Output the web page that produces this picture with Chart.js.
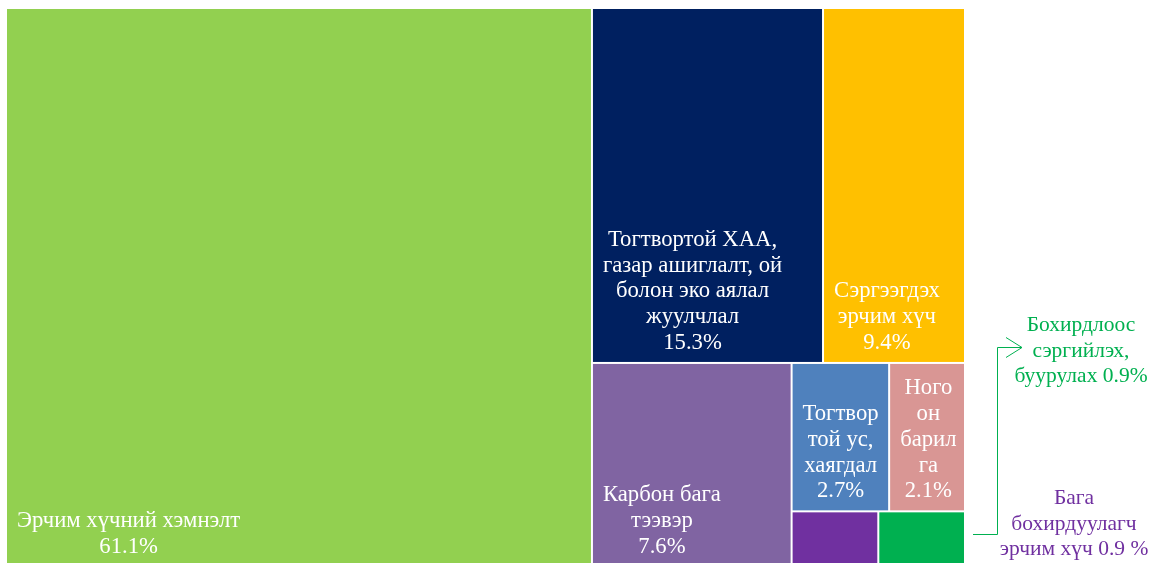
<!DOCTYPE html>
<html>
<head>
<meta charset="utf-8">
<script src="https://cdn.jsdelivr.net/npm/chart.js@4"></script>
<style>
  html, body { margin: 0; padding: 0; background: #fff; overflow: hidden; }
</style>
</head>
<body>
<canvas id="treeChart" width="1151" height="568"></canvas>
<script>
const categories = [
    'Эрчим хүчний хэмнэлт',
    'Тогтвортой ХАА, газар ашиглалт, ой болон эко аялал жуулчлал',
    'Сэргээгдэх эрчим хүч',
    'Карбон бага тээвэр',
    'Тогтвортой ус, хаягдал',
    'Ногоон барилга',
    'Бага бохирдуулагч эрчим хүч',
    'Бохирдлоос сэргийлэх, буурулах',
];
const values = [61.1, 15.3, 9.4, 7.6, 2.7, 2.1, 0.9, 0.9];
const colors = ['#92d050', '#002060', '#ffc000', '#8064a2', '#4f81bd', '#d99694', '#7030a0', '#00b050'];
const labelLines = [
    ['Эрчим хүчний хэмнэлт', '61.1%'],
    ['Тогтвортой ХАА,', 'газар ашиглалт, ой', 'болон эко аялал', 'жуулчлал', '15.3%'],
    ['Сэргээгдэх', 'эрчим хүч', '9.4%'],
    ['Карбон бага', 'тээвэр', '7.6%'],
    ['Тогтвор', 'той ус,', 'хаягдал', '2.7%'],
    ['Ного', 'он', 'барил', 'га', '2.1%'],
    [],
    [],
];
// outside callouts for the two smallest cells
const calloutGreen = ['Бохирдлоос', 'сэргийлэх,', 'буурулах 0.9%'];
const calloutPurple = ['Бага', 'бохирдуулагч', 'эрчим хүч 0.9 %'];

// nesting of the slices: alternating horizontal / vertical splits
const layoutTree = [0, [[1, 2], [3, [[4, 5], [6, 7]]]]];

function sumNode(n) {
    return typeof n === 'number' ? values[n] : n.reduce((a, c) => a + sumNode(c), 0);
}

function split(node, x0, y0, x1, y1, horiz, out) {
    if (typeof node === 'number') {
        out[node] = { x0, y0, x1, y1 };
        return;
    }
    const total = sumNode(node);
    let pos = horiz ? x0 : y0;
    node.forEach(child => {
        const size = sumNode(child) / total * (horiz ? x1 - x0 : y1 - y0);
        if (horiz) split(child, pos, y0, pos + size, y1, !horiz, out);
        else split(child, x0, pos, x1, pos + size, !horiz, out);
        pos += size;
    });
}

const cells = [];
split(layoutTree, 0, 0, 1, 1, true, cells);

const FONT = '"Liberation Serif", "Times New Roman", serif';

const treemapPlugin = {
    id: 'treemapCells',
    beforeDatasetsDraw(chart) {
        const { ctx, scales: { x, y } } = chart;
        ctx.save();
        cells.forEach((c, i) => {
            const left = x.getPixelForValue(c.x0) + 1;
            const right = x.getPixelForValue(c.x1) - 1;
            const top = y.getPixelForValue(c.y0) + 1;
            const bottom = y.getPixelForValue(c.y1) - 1;
            ctx.fillStyle = colors[i];
            ctx.fillRect(left, top, right - left, bottom - top);

            const lines = labelLines[i];
            if (!lines.length) return;
            ctx.font = '22.7px ' + FONT;
            ctx.fillStyle = '#ffffff';
            ctx.textAlign = 'center';
            ctx.textBaseline = 'alphabetic';
            const maxW = Math.max(...lines.map(l => ctx.measureText(l).width));
            const cx = left + 10 + maxW / 2;
            const lh = 25.8;
            lines.forEach((l, k) => {
                const by = bottom - 13 - (lines.length - 1 - k) * lh;
                ctx.fillText(l, cx, by);
            });
        });
        ctx.restore();
    },
    afterDraw(chart) {
        const { ctx, chartArea } = chart;
        const right = chartArea.right;
        ctx.save();
        ctx.font = '21.5px ' + FONT;
        ctx.textAlign = 'center';
        ctx.textBaseline = 'alphabetic';

        ctx.fillStyle = '#00b050';
        calloutGreen.forEach((l, k) => ctx.fillText(l, right + 116, 331 + k * 25.5));
        ctx.fillStyle = '#7030a0';
        calloutPurple.forEach((l, k) => ctx.fillText(l, right + 109, 504 + k * 25.5));

        // connector from the green cell to its callout
        ctx.strokeStyle = '#00b050';
        ctx.lineWidth = 1;
        ctx.beginPath();
        ctx.moveTo(right + 8, 534.5);
        ctx.lineTo(right + 32.5, 534.5);
        ctx.lineTo(right + 32.5, 347.5);
        ctx.lineTo(right + 57, 347.5);
        ctx.moveTo(right + 41, 337.5);
        ctx.lineTo(right + 57, 347.5);
        ctx.lineTo(right + 41, 357.5);
        ctx.stroke();
        ctx.restore();
    }
};

new Chart(document.getElementById('treeChart'), {
    type: 'scatter',
    data: {
        labels: categories,
        datasets: [{
            label: 'Ногоон санхүүжилт',
            data: cells.map(c => ({ x: (c.x0 + c.x1) / 2, y: (c.y0 + c.y1) / 2 })),
            pointRadius: 0,
            pointHoverRadius: 0,
        }]
    },
    options: {
        responsive: false,
        animation: false,
        layout: { padding: { left: 6, right: 186, top: 8, bottom: 1 } },
        plugins: { legend: { display: false }, tooltip: { enabled: false } },
        scales: {
            x: { type: 'linear', min: 0, max: 1, display: false },
            y: { type: 'linear', min: 0, max: 1, reverse: true, display: false }
        }
    },
    plugins: [treemapPlugin]
});
</script>
</body>
</html>
